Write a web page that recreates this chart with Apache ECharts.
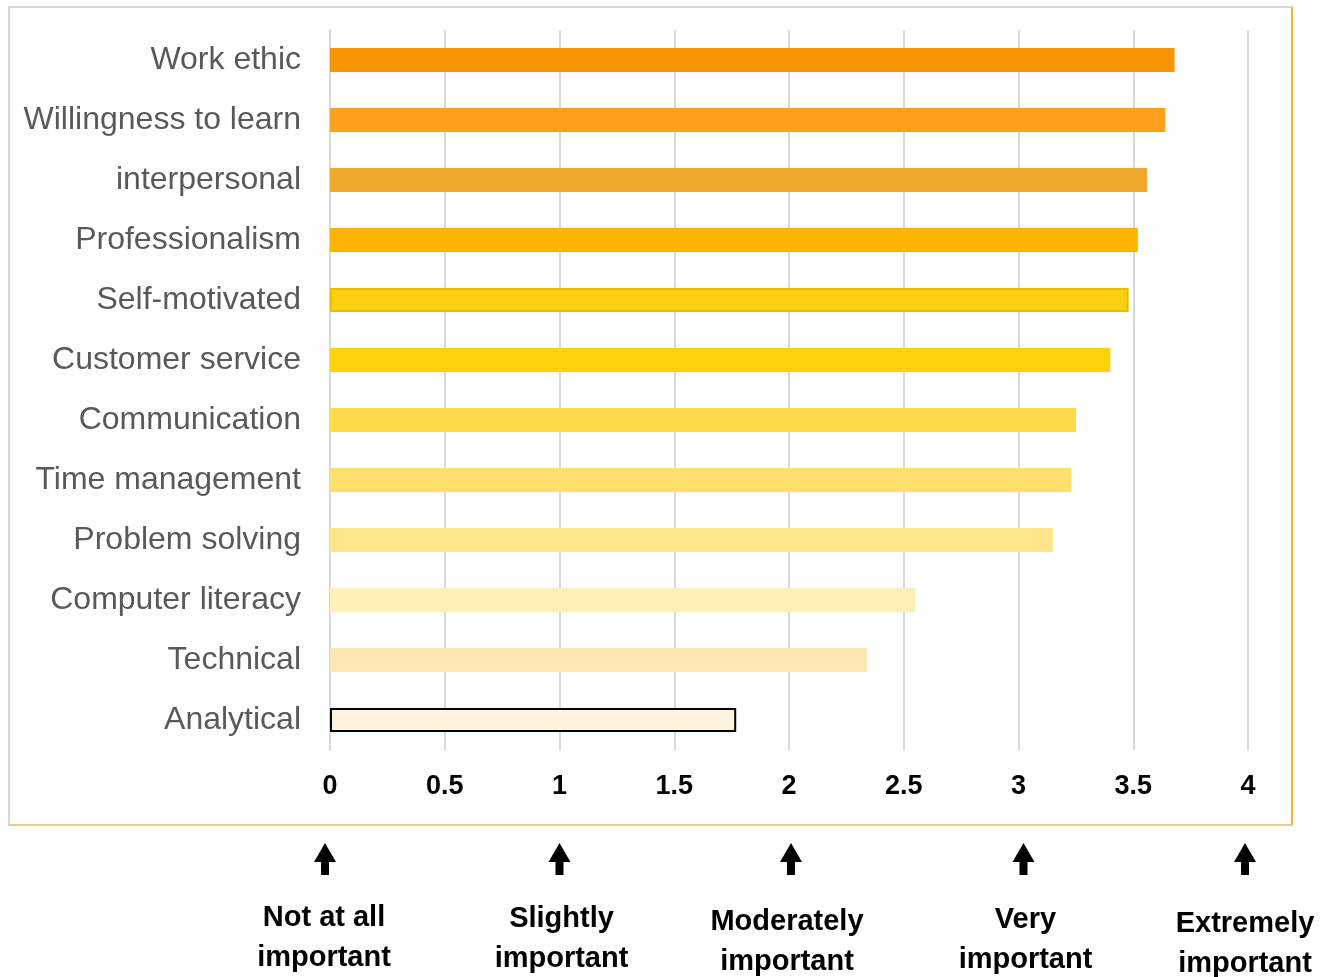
<!DOCTYPE html>
<html lang="en">
<head>
    <meta charset="UTF-8">
    <title>Skills importance</title>
    <script src="https://cdn.jsdelivr.net/npm/echarts@6/dist/echarts.min.js"></script>
    <style>
        html, body { margin: 0; padding: 0; background: #fff; }
        #chart { width: 1330px; height: 977px; }
    </style>
</head>
<body>
<div id="chart"></div>
<script type="text/javascript">
    // data, top to bottom
    var skills = ['Work ethic', 'Willingness to learn', 'interpersonal', 'Professionalism', 'Self-motivated',
        'Customer service', 'Communication', 'Time management', 'Problem solving', 'Computer literacy',
        'Technical', 'Analytical'];
    var scores = [3.68, 3.64, 3.56, 3.52, 3.48, 3.40, 3.25, 3.23, 3.15, 2.55, 2.34, 1.77];
    var barColors = ['#F59300', '#FFA11C', '#EFA92D', '#FCB400', '#FCCF10', '#FFD10A',
        '#FFDA48', '#FFE06E', '#FFE68A', '#FFF0B5', '#FDE6B4', '#FFF3DC'];
    var scaleTicks = [0, 1, 2, 3, 4];
    var scaleNames = ['Not at all\nimportant', 'Slightly\nimportant', 'Moderately\nimportant',
        'Very\nimportant', 'Extremely\nimportant'];

    var myChart = echarts.init(document.getElementById('chart'));

    var barData = scores.map(function (v, i) {
        var item = { value: v, itemStyle: { color: barColors[i] } };
        if (skills[i] === 'Analytical') {
            item.itemStyle.borderColor = '#000';
            item.itemStyle.borderWidth = 2;
        }
        if (skills[i] === 'Self-motivated') {
            item.itemStyle.borderColor = '#E8BC00';
            item.itemStyle.borderWidth = 2;
        }
        return item;
    });

    var option = {
        animation: false,
        grid: { left: 330, right: 82, top: 30, bottom: 227 },
        xAxis: {
            type: 'value',
            min: 0,
            max: 4,
            interval: 0.5,
            axisLine: { show: false },
            axisTick: { show: false },
            splitLine: { lineStyle: { color: '#d9d9d9', width: 2 } },
            axisLabel: {
                margin: 23,
                color: '#000',
                fontFamily: 'Liberation Sans',
                fontWeight: 'bold',
                fontSize: 27,
                formatter: function (v) { return String(v); }
            }
        },
        yAxis: {
            type: 'category',
            inverse: true,
            data: skills,
            axisLine: { show: true, lineStyle: { color: '#d9d9d9', width: 2 } },
            axisTick: { show: false },
            axisLabel: {
                margin: 29,
                color: '#595959',
                fontFamily: 'Liberation Sans',
                fontSize: 32
            }
        },
        series: [{
            type: 'bar',
            data: barData,
            barWidth: 24
        }]
    };
    myChart.setOption(option);

    // frame + arrows and scale labels under the ticks
    var arrowShift = [-5, 0, 2, 5, -3];
    var textShift = [-6, 2, -2, 7, -3];
    var textDrop = [0, 1, 4, 2, 6];
    var g = [
        { type: 'rect', shape: { x: 9, y: 7, width: 1283, height: 818 },
          style: { fill: 'none', stroke: '#d9d9d9', lineWidth: 2 }, z: -1 },
        { type: 'line', shape: { x1: 1292, y1: 7, x2: 1292, y2: 825 },
          style: { stroke: '#F5B230', lineWidth: 2 } },
        { type: 'line', shape: { x1: 9, y1: 825, x2: 1292, y2: 825 },
          style: { stroke: '#F3C77A', lineWidth: 1.5 } }
    ];
    scaleTicks.forEach(function (t, i) {
        var x0 = myChart.convertToPixel({ xAxisIndex: 0 }, t);
        var x = x0 + arrowShift[i];
        g.push({
            type: 'polygon',
            shape: { points: [[x, 843], [x + 11, 862], [x + 4, 862], [x + 4, 875],
                [x - 4, 875], [x - 4, 862], [x - 11, 862]] },
            style: { fill: '#000' }
        });
        g.push({
            type: 'text',
            x: x0 + textShift[i],
            y: 898 + textDrop[i],
            style: {
                text: scaleNames[i],
                align: 'center',
                verticalAlign: 'top',
                fontFamily: 'Liberation Sans',
                fontWeight: 'bold',
                fontSize: 29,
                lineHeight: 40,
                fill: '#000'
            }
        });
    });
    myChart.setOption({ graphic: g });
    window.onresize = myChart.resize;
</script>
</body>
</html>
